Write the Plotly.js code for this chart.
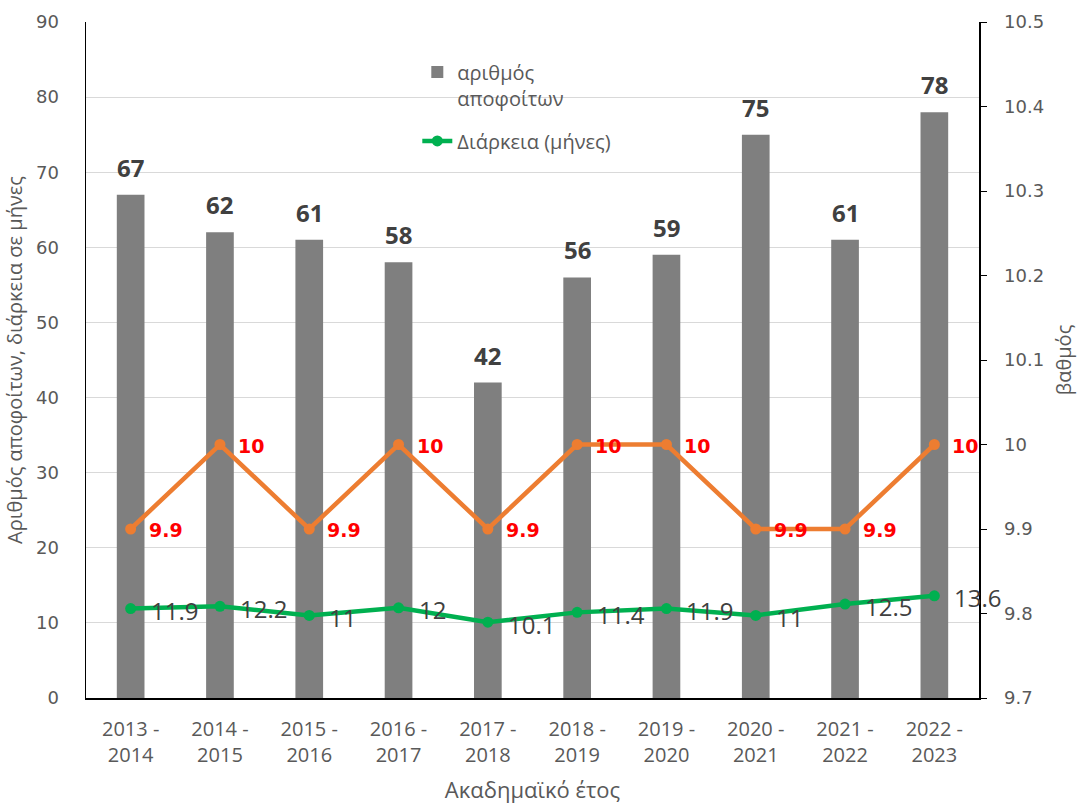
<!DOCTYPE html>
<html>
<head>
<meta charset="utf-8">
<script src="https://cdn.plot.ly/plotly-3.0.1.min.js"></script>
<style>html,body{margin:0;padding:0;background:#fff;}#chart{width:1078px;height:804px;}</style>
</head>
<body>
<div id="chart"></div>
<script>
const categories = ['2013 -<br>2014','2014 -<br>2015','2015 -<br>2016','2016 -<br>2017','2017 -<br>2018','2018 -<br>2019','2019 -<br>2020','2020 -<br>2021','2021 -<br>2022','2022 -<br>2023'];
const graduates = [67, 62, 61, 58, 42, 56, 59, 75, 61, 78];
const durationMonths = [11.9, 12.2, 11, 12, 10.1, 11.4, 11.9, 11, 12.5, 13.6];
const grade = [9.9, 10, 9.9, 10, 9.9, 10, 10, 9.9, 9.9, 10];
const leftTicks = [0,10,20,30,40,50,60,70,80,90];
const rightTicks = [9.7,9.8,9.9,10,10.1,10.2,10.3,10.4,10.5];

const gray = '#7f7f7f', green = '#00b050', orange = '#ed7d31', txt = '#595959';

const traces = [
  {type:'bar', x:categories, y:graduates, name:'αριθμός<br>αποφοίτων', legendgroup:'a', marker:{color:gray}, width:0.31, hoverinfo:'skip'},
  {type:'scatter', mode:'lines+markers', x:categories, y:grade, yaxis:'y2', name:'Βαθμός', showlegend:false, legendgroup:'c',
   line:{color:orange, width:4.5}, marker:{color:orange, size:11}},
  {type:'scatter', mode:'lines+markers', x:categories, y:durationMonths, name:'Διάρκεια (μήνες)', legendgroup:'b',
   line:{color:green, width:4.5}, marker:{color:green, size:11}}
];

const annotations = [];
categories.forEach((c,i)=>{
  annotations.push({x:c, y:graduates[i], xref:'x', yref:'y', text:String(graduates[i]), showarrow:false,
    yanchor:'bottom', yshift:9, font:{family:'Open Sans', size:24, color:'#404040', weight:'bold'}});
  annotations.push({x:c, y:durationMonths[i], xref:'x', yref:'y', text:String(durationMonths[i]), showarrow:false,
    xanchor:'left', yanchor:'middle', xshift:18, yshift:-2, font:{family:'Open Sans', size:24, color:'#404040'}});
  annotations.push({x:c, y:grade[i], xref:'x', yref:'y2', text:String(grade[i]), showarrow:false,
    xanchor:'left', yanchor:'middle', xshift:16, yshift:-1, font:{family:'DejaVu Sans', size:19, color:'#ff0000', weight:'bold'}});
});

const layout = {
  width:1078, height:804,
  margin:{l:86, r:99, t:22, b:106},
  paper_bgcolor:'#fff', plot_bgcolor:'#fff',
  showlegend:true,
  legend:{x:0.371, y:0.955, xanchor:'left', yanchor:'top', bgcolor:'rgba(0,0,0,0)', valign:'top',
    font:{family:'Open Sans', size:20, color:txt}, tracegroupgap:14},
  xaxis:{type:'category', range:[-0.5, categories.length-0.5], showline:true, linecolor:'#000', linewidth:1.5, ticks:'', showgrid:false,
    tickfont:{family:'Open Sans', size:20, color:txt}, ticklabelstandoff:12,
    title:{text:'Ακαδημαϊκό έτος', font:{family:'Open Sans', size:22, color:txt}, standoff:18}},
  yaxis:{range:[0,90], tickvals:leftTicks, showline:true, linecolor:'#000', linewidth:1.5, ticks:'',
    gridcolor:'#d9d9d9', gridwidth:1.2, zeroline:false,
    tickfont:{family:'DejaVu Sans', size:18, color:txt}, ticklabelstandoff:22,
    title:{text:'Αριθμός αποφοίτων, διάρκεια σε μήνες', font:{family:'Open Sans', size:20, color:txt}, standoff:8}},
  yaxis2:{range:[9.7,10.5], tickvals:rightTicks, overlaying:'y', side:'right', showline:true, linecolor:'#000', linewidth:1.5,
    ticks:'outside', ticklen:6, tickcolor:'#000', showgrid:false, zeroline:false,
    tickfont:{family:'DejaVu Sans', size:18, color:txt}, ticklabelstandoff:14,
    title:{text:'βαθμός', font:{family:'Open Sans', size:20, color:txt}, standoff:14}},
  annotations:annotations
};

Plotly.newPlot('chart', traces, layout, {displayModeBar:false, staticPlot:true});
</script>
</body>
</html>
